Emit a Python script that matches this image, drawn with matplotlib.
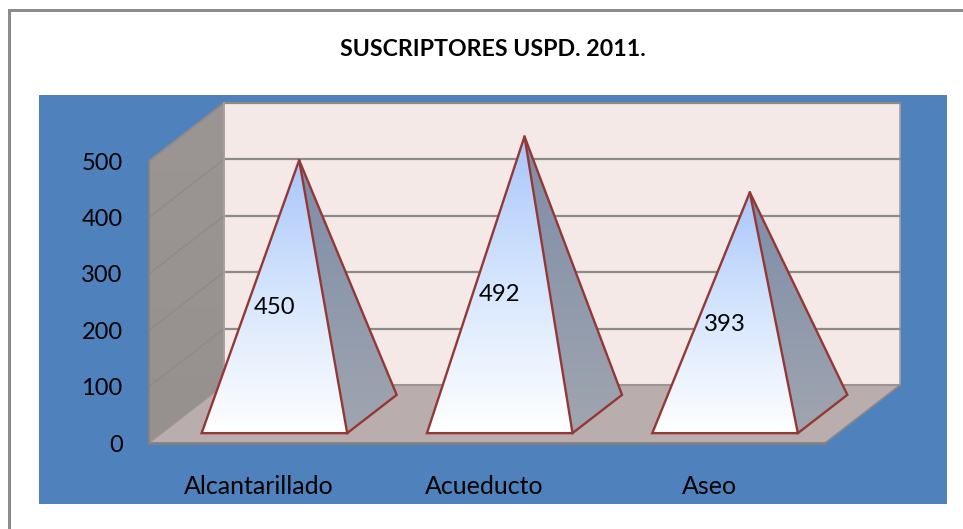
import numpy as np
import matplotlib
matplotlib.use("Agg")
import matplotlib.pyplot as plt
from matplotlib.patches import Polygon, Rectangle
from matplotlib.colors import LinearSegmentedColormap
from matplotlib.transforms import ScaledTranslation

plt.rcParams["font.family"] = ["Lato", "DejaVu Sans"]

categories = ["Alcantarillado", "Acueducto", "Aseo"]
subscribers = [450, 492, 393]
y_ticks = [0, 100, 200, 300, 400, 500]
title = "SUSCRIPTORES USPD. 2011."

W, H = 963, 529
# front plane of the fake 3d box, in pixels
LEFT, RIGHT, TOP, BOTTOM = 149, 825, 161, 443
# how far the back wall is shifted from the front plane, in data units
DEPTH_X = 75 / ((RIGHT - LEFT) / 3)
DEPTH_Y = 58 / ((BOTTOM - TOP) / 500)

BORDER = "#8c8c8c"
PANEL = "#4f81bd"
EDGE = "#953735"
GRID = "#8c8c86"


def proj(x, y, z):
    # z goes from 0 (front) to 1 (back wall)
    return (x + z * DEPTH_X, y + z * DEPTH_Y)


fig = plt.figure(figsize=(W / 100, H / 100), dpi=100, facecolor="white")

# outer frame, only the top and left sides show
fig.add_artist(Rectangle((8 / W, 1 - 11.5 / H), (W - 8) / W, 2.5 / H, transform=fig.transFigure,
                         fc=BORDER, ec="none", zorder=-2))
fig.add_artist(Rectangle((8 / W, 0), 3 / W, 1 - 9 / H, transform=fig.transFigure,
                         fc=BORDER, ec="none", zorder=-2))
fig.add_artist(Rectangle((39 / W, 1 - 504 / H), 908 / W, 409 / H, transform=fig.transFigure,
                         fc=PANEL, ec="none", zorder=-2))
fig.text(493 / W, 1 - 49.5 / H, title, ha="center", va="center", fontsize=16.7, fontweight="bold",
         color="black")

ax = fig.add_axes([LEFT / W, 1 - BOTTOM / H, (RIGHT - LEFT) / W, (BOTTOM - TOP) / H])
ax.patch.set_alpha(0)
for s in ax.spines.values():
    s.set_visible(False)
ax.set_xlim(0, 3)
ax.set_ylim(0, 500)


def face(pts, fc, ec="none", lw=0.0, z=1):
    p = Polygon(pts, closed=True, fc=fc, ec=ec, lw=lw, zorder=z, clip_on=False, joinstyle="miter")
    ax.add_patch(p)
    return p


def grad_face(pts, colors, z):
    # polygon with a vertical gradient: image clipped to the polygon
    pts = np.array(pts)
    cmap = LinearSegmentedColormap.from_list("f", colors)
    p = Polygon(pts, closed=True, fc="none", ec="none", transform=ax.transData, clip_on=False)
    ax.add_patch(p)
    im = ax.imshow(np.linspace(0, 1, 256).reshape(-1, 1), cmap=cmap, aspect="auto", origin="upper",
                   extent=[pts[:, 0].min(), pts[:, 0].max(), pts[:, 1].min(), pts[:, 1].max()],
                   zorder=z)
    im.set_clip_box(fig.bbox)
    im.set_clip_path(p)


# back wall
face([proj(0, 0, 1), proj(3, 0, 1), proj(3, 500, 1), proj(0, 500, 1)], "#f5e9e8", "#a8a29e", 1.2)
# left wall
grad_face([proj(0, 0, 0), proj(0, 0, 1), proj(0, 500, 1), proj(0, 500, 0)], ["#9b9593", "#96918e"], 1.1)
# floor
face([proj(0, 0, 0), proj(3, 0, 0), proj(3, 0, 1), proj(0, 0, 1)], "#b9aead", z=1.2)
ax.plot(*zip(proj(0, 0, 1), proj(3, 0, 1)), color="#9c9692", lw=1.5, zorder=1.3, clip_on=False)
ax.plot(*zip(proj(3, 0, 0), proj(3, 0, 1)), color="#8f8a86", lw=1.2, zorder=1.3, clip_on=False)
ax.plot(*zip(proj(0, 0, 0), proj(3, 0, 0)), color="#85827e", lw=2.0, zorder=1.3, clip_on=False)
ax.plot(*zip(proj(0, 0, 0), proj(0, 0, 1)), color="#9c9692", lw=1.0, zorder=1.3, clip_on=False)

# gridlines run over left wall and back wall
for v in y_ticks[1:]:
    ax.plot(*zip(proj(0, v, 0), proj(0, v, 1)), color=GRID, lw=1.0, zorder=1.4, clip_on=False)
    ax.plot(*zip(proj(0, v, 1), proj(3, v, 1)), color=GRID, lw=1.6, zorder=1.4, clip_on=False)
ax.plot(*zip(proj(0, 500, 0), proj(0, 500, 1)), color="#8f8a86", lw=1.2, zorder=1.4, clip_on=False)
ax.plot(*zip(proj(0, 0, 0), proj(0, 500, 0)), color="#85827e", lw=1.2, zorder=1.4, clip_on=False)
ax.plot(*zip(proj(0, 0, 1), proj(0, 500, 1)), color="#a8a29e", lw=1.2, zorder=1.4, clip_on=False)

# pyramids
half = 0.323
z0, z1 = 0.17, 0.83
for i, v in enumerate(subscribers):
    c = i + 0.5
    fl = proj(c - half, 0, z0)
    fr = proj(c + half, 0, z0)
    br = proj(c + half, 0, z1)
    apex = proj(c, v, 0.5)
    grad_face([br, fr, apex], ["#7d8ca8", "#a0a6b0"], 3)
    grad_face([fl, fr, apex], ["#a9c6fb", "#d6e6fd", "#ffffff"], 3.1)
    face([fl, fr, br, apex], "none", EDGE, 1.7, 3.2)
    ax.plot(*zip(fr, apex), color=EDGE, lw=1.7, zorder=3.2, clip_on=False)
    ax.text(c + 0.055, v * 0.55 - 6.5, str(v), ha="center", va="center", fontsize=17.2,
            color="black", zorder=4)

ax.set_xlim(0, 3)
ax.set_ylim(0, 500)
ax.set_yticks(y_ticks)
ax.set_xticks([0.5, 1.5, 2.5], categories)
ax.tick_params(axis="y", length=0, pad=19, labelsize=17, labelcolor="black")
ax.tick_params(axis="x", length=0, pad=23, labelsize=18, labelcolor="black")
shift = ScaledTranslation(-2.5 / 100, 0, fig.dpi_scale_trans)
for lab in ax.get_xticklabels():
    lab.set_transform(lab.get_transform() + shift)

fig.savefig("out.png", dpi=100)
